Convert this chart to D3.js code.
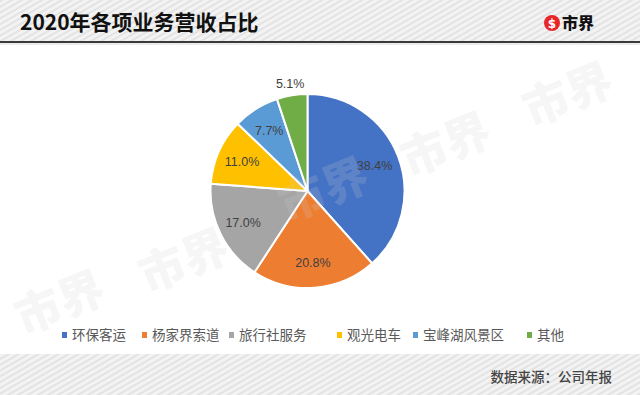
<!DOCTYPE html>
<html>
<head>
<meta charset="utf-8">
<script src="https://cdn.jsdelivr.net/npm/d3@7"></script>
<style>
  body { margin: 0; background: #fff; }
  svg { display: block; }
</style>
</head>
<body>
<div id="chart"></div>
<script>
// data
var categories = ["环保客运", "杨家界索道", "旅行社服务", "观光电车", "宝峰湖风景区", "其他"];
var shares = [38.4, 20.8, 17.0, 11.0, 7.7, 5.1];
var title = "2020年各项业务营收占比";
var source = "数据来源：公司年报";

var width = 640,
  height = 395,
  cx = 307.5,
  cy = 191,
  radius = 97;

var palette = ["#4472C4", "#ED7D31", "#A5A5A5", "#FFC000", "#5B9BD5", "#70AD47"];
var color = d3.scaleOrdinal().domain(categories).range(palette);

var cjk = "'Noto Sans CJK SC', 'Noto Sans', sans-serif";

var svg = d3.select("#chart").append("svg")
  .attr("width", width)
  .attr("height", height);

//striped band pattern for header / footer
var defs = svg.append("defs");
var pat = defs.append("pattern")
  .attr("id", "stripes")
  .attr("patternUnits", "userSpaceOnUse")
  .attr("width", 5)
  .attr("height", 5)
  .attr("patternTransform", "rotate(-30)");
pat.append("rect").attr("width", 5).attr("height", 5).attr("fill", "#f3f3f3");
pat.append("rect").attr("width", 5).attr("height", 2).attr("fill", "#e3e3e3");

svg.append("rect")
  .attr("width", width).attr("height", 41)
  .attr("fill", "url(#stripes)");
svg.append("rect")
  .attr("y", 354).attr("width", width).attr("height", height - 354)
  .attr("fill", "url(#stripes)");
svg.append("line")
  .attr("x1", 0).attr("x2", width).attr("y1", 42).attr("y2", 42)
  .attr("stroke", "#3a3a3a").attr("stroke-width", 2);
svg.append("line")
  .attr("x1", 0).attr("x2", width).attr("y1", 44).attr("y2", 44)
  .attr("stroke", "#d8d8d8").attr("stroke-width", 1);

//title
svg.append("text")
  .attr("x", 20).attr("y", 30)
  .style("font-family", cjk)
  .style("font-size", "21px")
  .style("font-weight", "bold")
  .attr("fill", "#111")
  .text(title);

//logo
var logo = svg.append("g").attr("transform", "translate(552,23)");
logo.append("circle").attr("r", 8).attr("fill", "#e8262a");
logo.append("text")
  .attr("text-anchor", "middle").attr("y", 4.5)
  .style("font-family", "'DejaVu Sans', sans-serif")
  .style("font-size", "12px").style("font-weight", "bold")
  .attr("fill", "#fff")
  .text("$");
svg.append("text")
  .attr("x", 562).attr("y", 29)
  .style("font-family", cjk)
  .style("font-size", "16px").style("font-weight", "900")
  .attr("fill", "#111")
  .text("市界");

//pie
var pie = d3.pie().sort(null).value(function(d) { return d.value; });
var arc = d3.arc().innerRadius(0).outerRadius(radius);
var labelArc = d3.arc().innerRadius(radius * 0.74).outerRadius(radius * 0.74);
var outerLabelArc = d3.arc().innerRadius(radius * 1.12).outerRadius(radius * 1.12);

var rows = categories.map(function(c, i) { return { name: c, value: shares[i] }; });
var arcs = pie(rows);

var g = svg.append("g").attr("transform", "translate(" + cx + "," + cy + ")");

g.selectAll("path.slice")
  .data(arcs)
  .enter().append("path")
  .attr("class", "slice")
  .attr("d", arc)
  .attr("fill", function(d) { return color(d.data.name); })
  .attr("stroke", "#fff")
  .attr("stroke-width", 2)
  .attr("stroke-linejoin", "round");

g.selectAll("text.pct")
  .data(arcs)
  .enter().append("text")
  .attr("class", "pct")
  .attr("transform", function(d) {
    var p = d.data.value < 6 ? outerLabelArc.centroid(d) : labelArc.centroid(d);
    return "translate(" + p[0] + "," + p[1] + ")";
  })
  .attr("text-anchor", "middle")
  .attr("dy", "0.36em")
  .style("font-family", "'Liberation Sans', Arial, sans-serif")
  .style("font-size", "12.5px")
  .attr("fill", "#404040")
  .text(function(d) { return d.data.value.toFixed(1) + "%"; });

//watermarks
var marks = [[66, 318], [190, 276], [330, 205], [452, 160], [574, 110]];
svg.append("g").selectAll("text")
  .data(marks)
  .enter().append("text")
  .attr("transform", function(d) { return "translate(" + d[0] + "," + d[1] + ") rotate(-22)"; })
  .attr("text-anchor", "middle")
  .style("font-family", cjk)
  .style("font-size", "46px").style("font-weight", "900")
  .attr("fill", "#cfcfcf")
  .attr("fill-opacity", 0.2)
  .text("市界");

//legend
var legendX = [62, 142, 229, 337, 413, 527];
var legend = svg.append("g").selectAll("g")
  .data(categories)
  .enter().append("g")
  .attr("transform", function(d, i) { return "translate(" + legendX[i] + ",335)"; });
legend.append("rect")
  .attr("x", 0).attr("y", -3).attr("width", 5).attr("height", 6)
  .attr("fill", function(d) { return color(d); });
legend.append("text")
  .attr("x", 10).attr("dy", "0.36em")
  .style("font-family", cjk)
  .style("font-size", "13.5px")
  .attr("fill", "#595959")
  .text(function(d) { return d; });

//source
svg.append("text")
  .attr("x", 612).attr("y", 382)
  .attr("text-anchor", "end")
  .style("font-family", cjk)
  .style("font-size", "13.5px")
  .style("font-weight", "500")
  .attr("fill", "#444")
  .text(source);
</script>
</body>
</html>
